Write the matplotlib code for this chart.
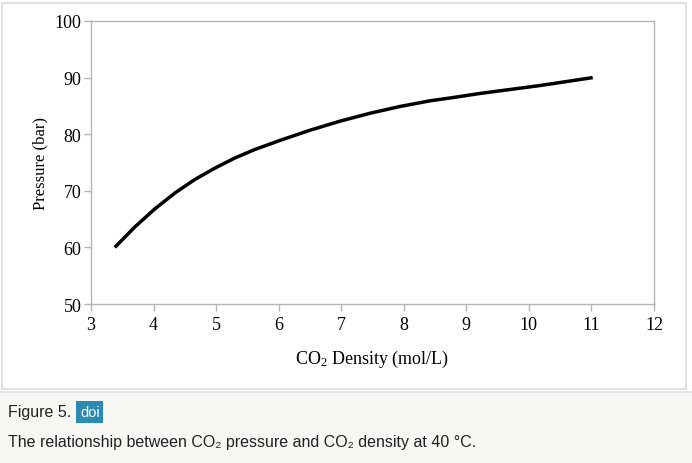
import matplotlib
matplotlib.use('Agg')
import matplotlib.pyplot as plt
from matplotlib.patches import Rectangle

# CO2 density (mol/L) vs pressure (bar) at 40 C
density = [3.38, 3.70, 4.02, 4.34, 4.66, 4.98, 5.30, 5.62, 6.02, 6.50,
           6.98, 7.46, 7.94, 8.42, 8.74, 9.22, 9.70, 10.18, 10.66, 11.02]
pressure = [60.0, 63.6, 66.8, 69.6, 72.0, 74.0, 75.8, 77.3, 78.9, 80.7,
            82.3, 83.7, 84.9, 85.9, 86.4, 87.2, 87.9, 88.6, 89.4, 90.0]

x_ticks = [3, 4, 5, 6, 7, 8, 9, 10, 11, 12]
y_ticks = [50, 60, 70, 80, 90, 100]

caption_head = 'Figure 5.'
caption_text = 'The relationship between CO\u2082 pressure and CO\u2082 density at 40 \u00b0C.'

plt.rcParams['mathtext.fontset'] = 'custom'
plt.rcParams['mathtext.rm'] = 'Liberation Serif'
plt.rcParams['mathtext.default'] = 'rm'

W, H = 692, 464
fig = plt.figure(figsize=(W / 100, H / 100), dpi=100)
fig.patch.set_facecolor('white')

# outer frame of the chart area and the caption band
fig.patches.append(Rectangle((2 / W, 1 - 390 / H), 684 / W, 386 / H,
                             transform=fig.transFigure, fill=False,
                             edgecolor='#e2e2e2', linewidth=1.5))
fig.patches.append(Rectangle((0, 0), 1, 1 - 392 / H, transform=fig.transFigure,
                             facecolor='#f6f6f3', edgecolor='none'))
fig.patches.append(Rectangle((0, 1 - 394 / H), 1, 2 / H, transform=fig.transFigure,
                             facecolor='#e6e6e4', edgecolor='none'))

ax = fig.add_axes([91 / W, 1 - 305 / H, (654 - 91) / W, (305 - 22) / H])
ax.plot(density, pressure, color='black', linewidth=2.5,
        solid_capstyle='butt', solid_joinstyle='round')

ax.set_xlim(3, 12)
ax.set_ylim(50, 100)
ax.set_xticks(x_ticks)
ax.set_yticks(y_ticks)

serif = 'Liberation Serif'
ax.set_xticklabels([str(t) for t in x_ticks], fontfamily=serif, fontsize=13)
ax.set_yticklabels([str(t) for t in y_ticks], fontfamily=serif, fontsize=13)
for s in ax.spines.values():
    s.set_color('#b4b4b4')
    s.set_linewidth(1.0)
ax.tick_params(direction='out', length=5, width=1.0, color='#b4b4b4')
ax.tick_params(axis='x', pad=4)
ax.tick_params(axis='y', pad=2)

ax.set_xlabel(r'CO$_2$ Density (mol/L)', fontfamily=serif, fontsize=13, labelpad=10)
ax.set_ylabel('Pressure (bar)', fontfamily=serif, fontsize=12)
ax.yaxis.set_label_coords(-0.076, 0.5)

# caption
sans = ['Liberation Sans', 'DejaVu Sans']
fig.text(8 / W, 1 - 413 / H, caption_head, family=sans,
         fontsize=11.5, va='center', ha='left', color='#222222')
fig.text(80 / W, 1 - 413 / H, 'doi', family=sans,
         fontsize=10.5, va='center', ha='left', color='white',
         bbox=dict(boxstyle='square,pad=0.25', facecolor='#2b8cb3', edgecolor='none'))
fig.text(8 / W, 1 - 443 / H, caption_text, family=sans,
         fontsize=11.5, va='center', ha='left', color='#222222')

fig.savefig('out.png', dpi=100)
